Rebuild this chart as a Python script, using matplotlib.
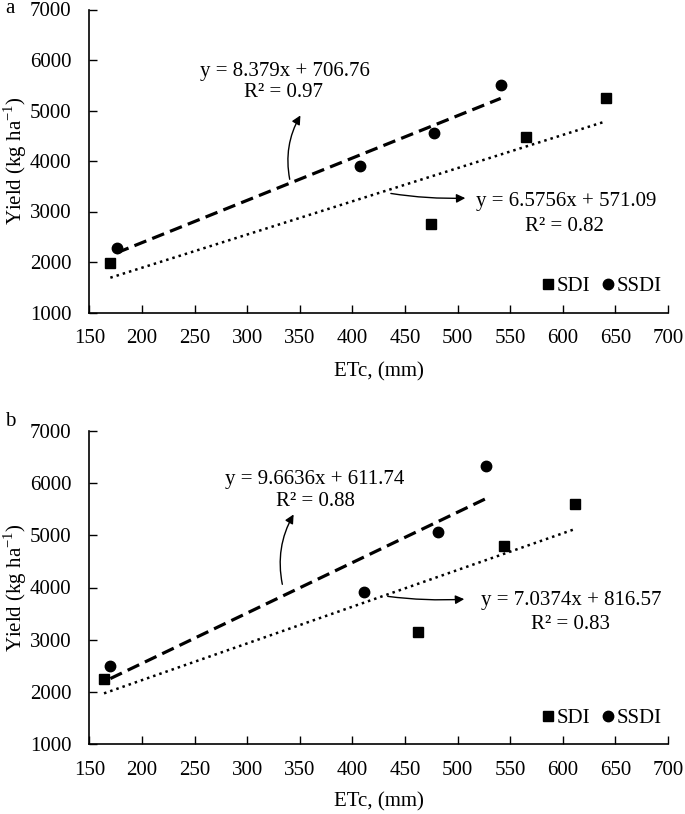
import matplotlib
matplotlib.use("Agg")
import matplotlib.pyplot as plt
import numpy as np
from matplotlib.lines import Line2D

plt.rcParams['font.family'] = ['Liberation Serif', 'DejaVu Serif']
plt.rcParams['mathtext.fontset'] = 'custom'
plt.rcParams['mathtext.rm'] = 'Liberation Serif'

# Panel a data
a_sdi_x = [170, 475, 565, 641]
a_sdi_y = [1980, 2750, 4470, 5240]
a_ssdi_x = [176, 407, 478, 541]
a_ssdi_y = [2280, 3910, 4545, 5500]
a_sdi_fit = (6.5756, 571.09, 0.82)
a_ssdi_fit = (8.379, 706.76, 0.97)

# Panel b data
b_sdi_x = [164, 462, 544, 612]
b_sdi_y = [2240, 3140, 4800, 5600]
b_ssdi_x = [170, 411, 481, 527]
b_ssdi_y = [2500, 3910, 5070, 6330]
b_sdi_fit = (7.0374, 816.57, 0.83)
b_ssdi_fit = (9.6636, 611.74, 0.88)

x_ticks = list(range(150, 701, 50))
y_ticks = list(range(1000, 7001, 1000))

W, H = 685, 814
fig = plt.figure(figsize=(W / 100, H / 100), dpi=100)

def px_axes(left, top, right, bottom):
    return fig.add_axes([left / W, 1 - bottom / H, (right - left) / W, (bottom - top) / H])

FS = 15

def draw(ax, sdi_x, sdi_y, ssdi_x, ssdi_y, sdi_fit, ssdi_fit,
         ssdi_l1, ssdi_l2, ssdi_arrow, sdi_l1, sdi_l2, sdi_arrow, xlabel_y):
    ax.plot(sdi_x, sdi_y, 's', color='black', ms=7.5, ls='none')
    ax.plot(ssdi_x, ssdi_y, 'o', color='black', ms=7.5, ls='none')
    xs = np.array([min(sdi_x), max(sdi_x)])
    ax.plot(xs, sdi_fit[0] * xs + sdi_fit[1], color='black', lw=1.8, ls=(0, (1, 1.6)))
    xs2 = np.array([min(ssdi_x), max(ssdi_x)])
    ax.plot(xs2, ssdi_fit[0] * xs2 + ssdi_fit[1], color='black', lw=2.3, ls=(0, (4, 2)))
    ax.set_xlim(150, 700)
    ax.set_ylim(1000, 7000)
    ax.set_xticks(x_ticks)
    ax.set_yticks(y_ticks)
    ax.tick_params(direction='in', length=6, width=1, labelsize=FS, colors='black')
    ax.tick_params(axis='y', pad=13)
    ax.tick_params(axis='x', pad=12)
    for s in ['top', 'right']:
        ax.spines[s].set_visible(False)
    for s in ['left', 'bottom']:
        ax.spines[s].set_linewidth(1.2)
    ax.set_xlabel('ETc, (mm)', fontsize=FS)
    ax.xaxis.set_label_coords(0.5, xlabel_y)
    ax.set_ylabel('Yield (kg ha$^{-1}$)', fontsize=FS)
    ax.yaxis.set_label_coords(-0.104, 0.5)

    ax.text(ssdi_l1[0], ssdi_l1[1], f'y = {ssdi_fit[0]}x + {ssdi_fit[1]}',
            ha='center', va='center', fontsize=FS)
    ax.text(ssdi_l2[0], ssdi_l2[1], f'R² = {ssdi_fit[2]:.2f}',
            ha='center', va='center', fontsize=FS)
    ax.annotate('', xy=ssdi_arrow[1], xytext=ssdi_arrow[0],
                arrowprops=dict(arrowstyle='-|>', color='black', lw=1.0,
                                mutation_scale=13,
                                connectionstyle='arc3,rad=-0.2'))
    ax.text(sdi_l1[0], sdi_l1[1], f'y = {sdi_fit[0]}x + {sdi_fit[1]}',
            ha='center', va='center', fontsize=FS)
    ax.text(sdi_l2[0], sdi_l2[1], f'R² = {sdi_fit[2]:.2f}',
            ha='center', va='center', fontsize=FS)
    ax.annotate('', xy=sdi_arrow[1], xytext=sdi_arrow[0],
                arrowprops=dict(arrowstyle='-|>', color='black', lw=1.0,
                                mutation_scale=13,
                                connectionstyle='arc3,rad=0.05'))

    handles = [Line2D([], [], marker='s', color='black', ls='none', ms=7.5),
               Line2D([], [], marker='o', color='black', ls='none', ms=7.5)]
    ax.legend(handles, ['SDI', 'SSDI'], loc='lower right', ncol=2, frameon=False,
              fontsize=FS, handletextpad=-0.1, columnspacing=0.35,
              bbox_to_anchor=(1.014, 0.005), handlelength=1.0, borderpad=0.2)


ax1 = px_axes(89.3, 9.5, 668, 312.5)
draw(ax1, a_sdi_x, a_sdi_y, a_ssdi_x, a_ssdi_y, a_sdi_fit, a_ssdi_fit,
     ssdi_l1=(336, 5768), ssdi_l2=(335, 5360), ssdi_arrow=((341, 3584), (352, 4950)),
     sdi_l1=(603, 3194), sdi_l2=(602, 2699), sdi_arrow=((434, 3366), (510, 3267)),
     xlabel_y=-0.163)

ax2 = px_axes(89.3, 431, 668, 744)
draw(ax2, b_sdi_x, b_sdi_y, b_ssdi_x, b_ssdi_y, b_sdi_fit, b_ssdi_fit,
     ssdi_l1=(364.5, 6061), ssdi_l2=(364.5, 5639), ssdi_arrow=((334, 4009), (345.5, 5447)),
     sdi_l1=(607.7, 3760), sdi_l2=(607, 3300), sdi_arrow=((431, 3837), (509, 3780)),
     xlabel_y=-0.153)

fig.text(5 / W, 1 - 13 / H, 'a', fontsize=FS, va='baseline', ha='left')
fig.text(5 / W, 1 - 426 / H, 'b', fontsize=FS, va='baseline', ha='left')

fig.savefig('out.png', dpi=100)
